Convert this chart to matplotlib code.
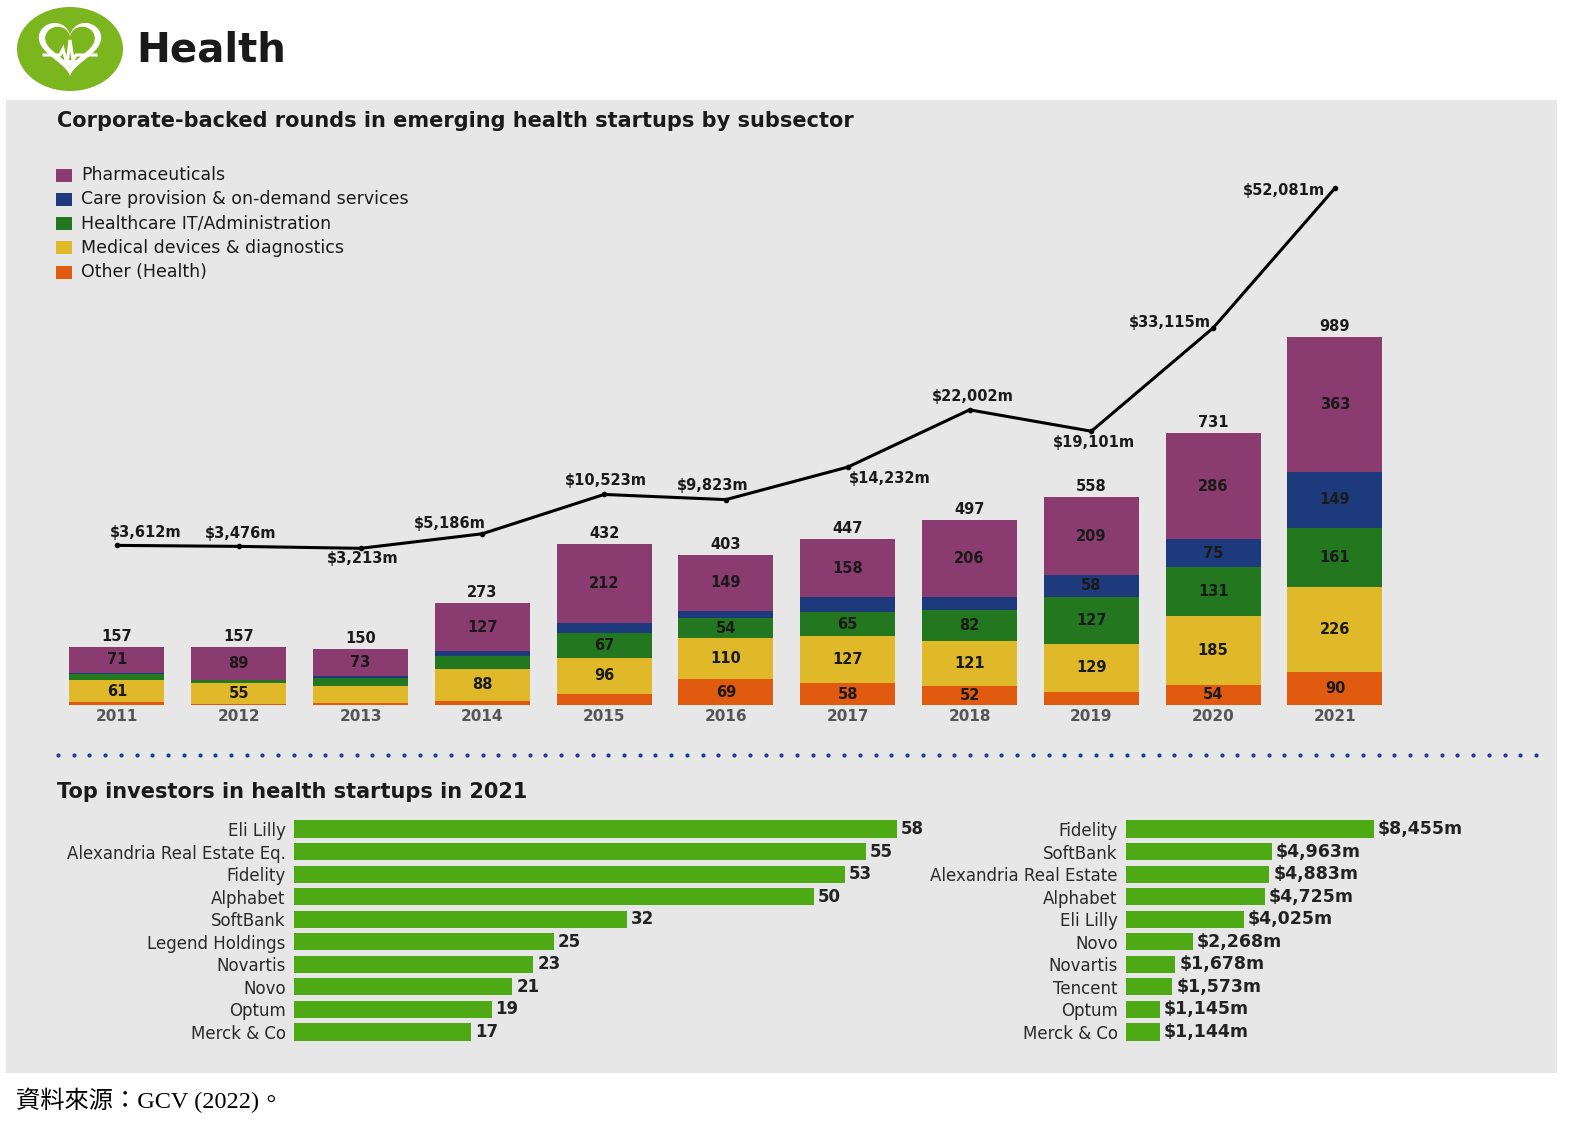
import numpy as np
import matplotlib
matplotlib.use('Agg')
import matplotlib.pyplot as plt
from matplotlib.patches import Rectangle, Ellipse, Polygon

# ---------------- data ----------------
years = ['2011', '2012', '2013', '2014', '2015', '2016', '2017', '2018', '2019', '2020', '2021']
categories = ['Pharmaceuticals', 'Care provision & on-demand services',
              'Healthcare IT/Administration', 'Medical devices & diagnostics', 'Other (Health)']
pharma = [71, 89, 73, 127, 212, 149, 158, 206, 209, 286, 363]
care = [3, 1, 4, 14, 27, 21, 39, 36, 58, 75, 149]
health_it = [15, 9, 22, 34, 67, 54, 65, 82, 127, 131, 161]
med_devices = [61, 55, 46, 88, 96, 110, 127, 121, 129, 185, 226]
other = [7, 3, 5, 10, 30, 69, 58, 52, 35, 54, 90]
totals = [157, 157, 150, 273, 432, 403, 447, 497, 558, 731, 989]
funding_m = [3612, 3476, 3213, 5186, 10523, 9823, 14232, 22002, 19101, 33115, 52081]

deal_investors = ['Eli Lilly', 'Alexandria Real Estate Eq.', 'Fidelity', 'Alphabet', 'SoftBank',
                  'Legend Holdings', 'Novartis', 'Novo', 'Optum', 'Merck & Co']
deal_counts = [58, 55, 53, 50, 32, 25, 23, 21, 19, 17]
amount_investors = ['Fidelity', 'SoftBank', 'Alexandria Real Estate', 'Alphabet', 'Eli Lilly',
                    'Novo', 'Novartis', 'Tencent', 'Optum', 'Merck & Co']
amounts_m = [8455, 4963, 4883, 4725, 4025, 2268, 1678, 1573, 1145, 1144]

# ---------------- style ----------------
plt.rcParams['font.family'] = ['DejaVu Sans']
W, H = 1571, 1132
colors = {'pharma': '#8a3b70', 'care': '#1d3b7c', 'it': '#23781f',
          'med': '#e0b92b', 'other': '#e05a10'}
panel = '#e7e7e7'
bar_green = '#4da914'
logo_green = '#7cb61f'
txt = '#1a1a1a'


def fx(x0, y0, x1, y1):
    return [x0 / W, 1 - y1 / H, (x1 - x0) / W, (y1 - y0) / H]


fig = plt.figure(figsize=(W / 100, H / 100), dpi=100)
fig.patch.set_facecolor('white')

# background / decoration axes in pixel coordinates
bg = fig.add_axes([0, 0, 1, 1])
bg.set_xlim(0, W)
bg.set_ylim(H, 0)
bg.axis('off')
bg.set_zorder(0)
bg.add_patch(Rectangle((6, 100), 1551, 973, facecolor=panel, edgecolor='none'))

# logo
bg.add_patch(Ellipse((70, 49), 106, 84, facecolor=logo_green, edgecolor='none'))
t = np.linspace(0, 2 * np.pi, 400)
hx = 16 * np.sin(t) ** 3
hy = 13 * np.cos(t) - 5 * np.cos(2 * t) - 2 * np.cos(3 * t) - np.cos(4 * t)
bg.add_patch(Polygon(np.column_stack([70 + 1.95 * hx, 45 - 1.85 * hy]),
                     closed=True, facecolor='white', edgecolor='none', zorder=1))
ix, iy = 70 + 1.55 * hx, 44 - 1.45 * hy
bg.add_patch(Polygon(np.column_stack([ix, iy]), closed=True, facecolor=logo_green,
                     edgecolor='none', zorder=2))
bg.add_patch(Polygon(np.column_stack([ix, np.maximum(iy, 60)]), closed=True,
                     facecolor='white', edgecolor='none', zorder=3))
bg.plot([44, 60, 63, 67, 70, 73, 76, 96], [55, 55, 49, 64, 40, 60, 55, 55],
        color='white', lw=2.2, zorder=4, solid_joinstyle='miter')
bg.text(136, 50, 'Health', fontsize=29, fontweight='bold', color=txt, va='center', ha='left')

# titles
bg.text(57, 121, 'Corporate-backed rounds in emerging health startups by subsector',
        fontsize=15, fontweight='bold', color=txt, va='center', ha='left')
bg.text(57, 792, 'Top investors in health startups in 2021',
        fontsize=15, fontweight='bold', color=txt, va='center', ha='left')

# legend
leg_cols = [colors['pharma'], colors['care'], colors['it'], colors['med'], colors['other']]
for i, (name, c) in enumerate(zip(categories, leg_cols)):
    yy = 175 + i * 24.3
    bg.add_patch(Rectangle((56, yy - 6.5), 16, 13, facecolor=c, edgecolor='none'))
    bg.text(81, yy, name, fontsize=12.5, color=txt, va='center', ha='left')

# dotted separator
dots_x = np.linspace(58, 1536, 95)
bg.scatter(dots_x, np.full_like(dots_x, 755), s=9, color='#1b3f9c', zorder=2, linewidths=0)

# footer
bg.text(16, 1100, '資料來源：GCV (2022)。', fontsize=17.5, color='black', va='center', ha='left',
        family=['Liberation Serif', 'Noto Sans CJK TC'])

# ---------------- main stacked bar chart ----------------
ax = fig.add_axes(fx(56, 150, 1400, 705))
ax.set_zorder(2)
ax.patch.set_visible(False)
x = np.arange(len(years))
stack = [(other, colors['other']), (med_devices, colors['med']), (health_it, colors['it']),
         (care, colors['care']), (pharma, colors['pharma'])]
bottom = np.zeros(len(years))
for vals, c in stack:
    vals = np.array(vals, dtype=float)
    ax.bar(x, vals, 0.78, bottom=bottom, color=c, edgecolor='none')
    for xi, v, b in zip(x, vals, bottom):
        if v >= 50:
            ax.text(xi, b + v / 2, f'{int(v)}', ha='center', va='center', fontsize=10.5,
                    fontweight='bold', color=txt)
    bottom += vals
for xi, tot in zip(x, totals):
    ax.annotate(f'{tot}', (xi, tot), xytext=(0, 3), textcoords='offset pixels',
                ha='center', va='bottom', fontsize=10.5, fontweight='bold', color=txt)
ax.set_xlim(-0.5, 10.534)
ax.set_ylim(0, 1492)
ax.set_xticks(x)
ax.set_xticklabels(years, fontsize=11, fontweight='bold', color='#555555')
ax.tick_params(axis='x', length=0, pad=3)
ax.set_yticks([])
for s in ax.spines.values():
    s.set_visible(False)

ax2 = ax.twinx()
ax2.set_zorder(3)
ax2.patch.set_visible(False)
ax2.plot(x, funding_m, color='black', lw=2.2, marker='o', ms=3, solid_joinstyle='miter')
ax2.set_ylim(-18046, 57259)
ax2.set_yticks([])
for s in ax2.spines.values():
    s.set_visible(False)
label_offsets = [(29, 13), (2, 13), (2, -10), (-33, 10), (2, 14), (-13, 14),
                 (42, -11), (3, 13), (3, -11), (-43, 5), (-51, -2)]
for xi, v, off in zip(x, funding_m, label_offsets):
    ax2.annotate(f'${v:,}m', (xi, v), xytext=off, textcoords='offset pixels',
                 ha='center', va='center', fontsize=10.5, fontweight='bold', color=txt)

# ---------------- bottom bar charts ----------------
lab_col = '#2a2a2a'
axl = fig.add_axes(fx(294, 817.7, 900, 1043.3))
axl.set_zorder(2)
axl.patch.set_visible(False)
yl = np.arange(len(deal_investors))
axl.barh(yl, deal_counts, 0.76, color=bar_green, edgecolor='none')
for yi, v in zip(yl, deal_counts):
    axl.annotate(f'{v}', (v, yi), xytext=(4, 0), textcoords='offset pixels',
                 ha='left', va='center', fontsize=12, fontweight='bold', color='#222222')
axl.set_xlim(0, 58.27)
axl.set_ylim(9.5, -0.5)
axl.set_yticks(yl)
axl.set_yticklabels(deal_investors, fontsize=12, color=lab_col)
axl.tick_params(axis='y', length=0, pad=6)
axl.set_xticks([])
for s in axl.spines.values():
    s.set_visible(False)

axr = fig.add_axes(fx(1126, 817.7, 1380, 1043.3))
axr.set_zorder(2)
axr.patch.set_visible(False)
yr = np.arange(len(amount_investors))
axr.barh(yr, amounts_m, 0.76, color=bar_green, edgecolor='none')
for yi, v in zip(yr, amounts_m):
    axr.annotate(f'${v:,}m', (v, yi), xytext=(4, 0), textcoords='offset pixels',
                 ha='left', va='center', fontsize=12.5, fontweight='bold', color='#222222')
axr.set_xlim(0, 8660)
axr.set_ylim(9.5, -0.5)
axr.set_yticks(yr)
axr.set_yticklabels(amount_investors, fontsize=12, color=lab_col)
axr.tick_params(axis='y', length=0, pad=6)
axr.set_xticks([])
for s in axr.spines.values():
    s.set_visible(False)

fig.savefig('out.png', dpi=100)
